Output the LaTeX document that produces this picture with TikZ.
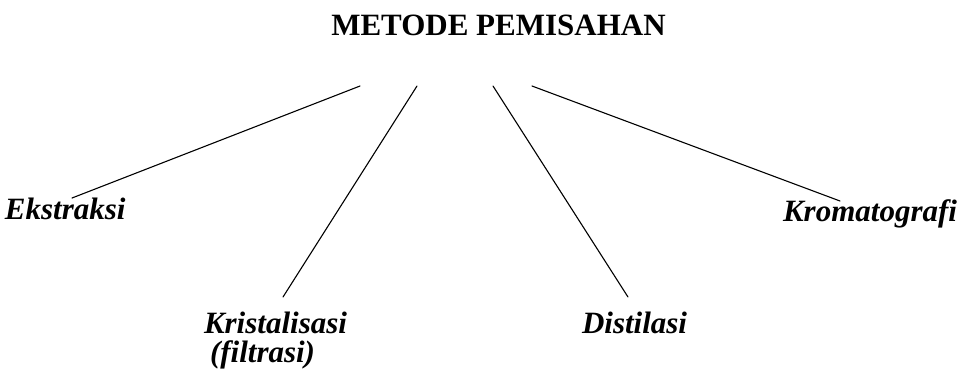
\documentclass[tikz,border=0pt]{standalone}
\usepackage{fontspec}
\setmainfont{Liberation Serif}
\begin{document}
\begin{tikzpicture}[x=1pt,y=-1pt,
  lbl/.style={inner sep=0pt,outer sep=0pt,font=\fontsize{31}{36}\selectfont\bfseries\itshape},
  ttl/.style={inner sep=0pt,outer sep=0pt,font=\fontsize{31}{36}\selectfont\bfseries},
  conn/.style={line width=1.1pt,line cap=round}]
\useasboundingbox (0,0) rectangle (959,376);
\node[ttl,anchor=base] (title) at (498.5,35) {METODE PEMISAHAN};
\node[lbl,anchor=base west] (ekstraksi) at (5,219) {Ekstraksi};
\node[lbl,anchor=base west] (kristal) at (204,333) {Kristalisasi};
\node[lbl,anchor=base west] (filtrasi) at (210,362) {(filtrasi)};
\node[lbl,anchor=base west] (distilasi) at (582,333) {Distilasi};
\node[lbl,anchor=base east] (kromato) at (957,221) {Kromatografi};
\coordinate (t1) at (360,86);
\coordinate (t2) at (417,86);
\coordinate (t3) at (493,86);
\coordinate (t4) at (532,86);
\coordinate (b1) at (72,198);
\coordinate (b2) at (283,297);
\coordinate (b3) at (628,297);
\coordinate (b4) at (840,201);
\draw[conn] (t1) -- (b1);
\draw[conn] (t2) -- (b2);
\draw[conn] (t3) -- (b3);
\draw[conn] (t4) -- (b4);
\end{tikzpicture}
\end{document}
